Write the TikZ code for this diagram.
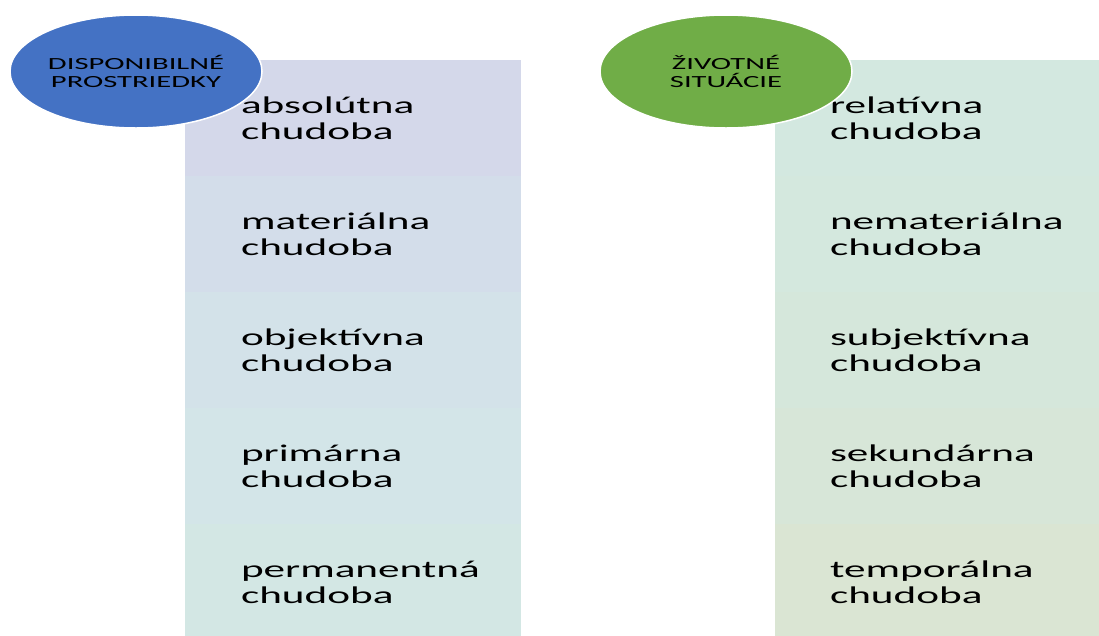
\documentclass[tikz,border=0pt]{standalone}
\usepackage{fontspec}
\setmainfont{Carlito}[FakeStretch=1.8]
\usetikzlibrary{shapes.geometric,positioning}

\definecolor{blobblue}{HTML}{4472C4}
\definecolor{blobgreen}{HTML}{70AD47}
\definecolor{lrowa}{HTML}{D4D8EA}
\definecolor{lrowb}{HTML}{D3DDEA}
\definecolor{lrowc}{HTML}{D3E2E9}
\definecolor{lrowd}{HTML}{D3E5E8}
\definecolor{lrowe}{HTML}{D3E7E4}
\definecolor{rrowa}{HTML}{D3E8E0}
\definecolor{rrowb}{HTML}{D4E8DE}
\definecolor{rrowc}{HTML}{D5E7DB}
\definecolor{rrowd}{HTML}{D7E6D8}
\definecolor{rrowe}{HTML}{DAE5D3}

\tikzset{
  rowbox/.style={rectangle, minimum width=336pt, minimum height=116pt, inner sep=0pt},
  rowtext/.style={align=left, inner sep=0pt, font=\fontsize{24}{26}\selectfont},
  blob/.style={ellipse, draw=white, line width=1.5pt, minimum width=252pt, minimum height=113pt,
    align=center, inner sep=0pt, font=\fontsize{17}{18}\selectfont},
}

\begin{document}
\begin{tikzpicture}[x=1pt,y=-1pt]
    \clip (0,0) rectangle (1099,635);
    \fill[white] (0,0) rectangle (1099,635);

    % left column
    \node[rowbox,fill=lrowa] (l1) at (353,118) {};
    \node[rowbox,fill=lrowb] (l2) at (353,234) {};
    \node[rowbox,fill=lrowc] (l3) at (353,350) {};
    \node[rowbox,fill=lrowd] (l4) at (353,466) {};
    \node[rowbox,fill=lrowe] (l5) at (353,582) {};

    \node[rowtext, right=56pt of l1.west] (lt1) {absolútna\\chudoba};
    \node[rowtext, right=56pt of l2.west] (lt2) {materiálna\\chudoba};
    \node[rowtext, right=56pt of l3.west] (lt3) {objektívna\\chudoba};
    \node[rowtext, right=56pt of l4.west] (lt4) {primárna\\chudoba};
    \node[rowtext, right=56pt of l5.west] (lt5) {permanentná\\chudoba};

    % right column
    \node[rowbox,fill=rrowa] (r1) at (943,118) {};
    \node[rowbox,fill=rrowb] (r2) at (943,234) {};
    \node[rowbox,fill=rrowc] (r3) at (943,350) {};
    \node[rowbox,fill=rrowd] (r4) at (943,466) {};
    \node[rowbox,fill=rrowe] (r5) at (943,582) {};

    \node[rowtext, right=55pt of r1.west] (rt1) {relatívna\\chudoba};
    \node[rowtext, right=55pt of r2.west] (rt2) {nemateriálna\\chudoba};
    \node[rowtext, right=55pt of r3.west] (rt3) {subjektívna\\chudoba};
    \node[rowtext, right=55pt of r4.west] (rt4) {sekundárna\\chudoba};
    \node[rowtext, right=55pt of r5.west] (rt5) {temporálna\\chudoba};

    % circles on top
    \node[blob,fill=blobblue] (means) at (136,71.5) {DISPONIBILNÉ\\PROSTRIEDKY};
    \node[blob,fill=blobgreen] (life) at (726,71.5) {ŽIVOTNÉ\\SITUÁCIE};
\end{tikzpicture}
\end{document}
